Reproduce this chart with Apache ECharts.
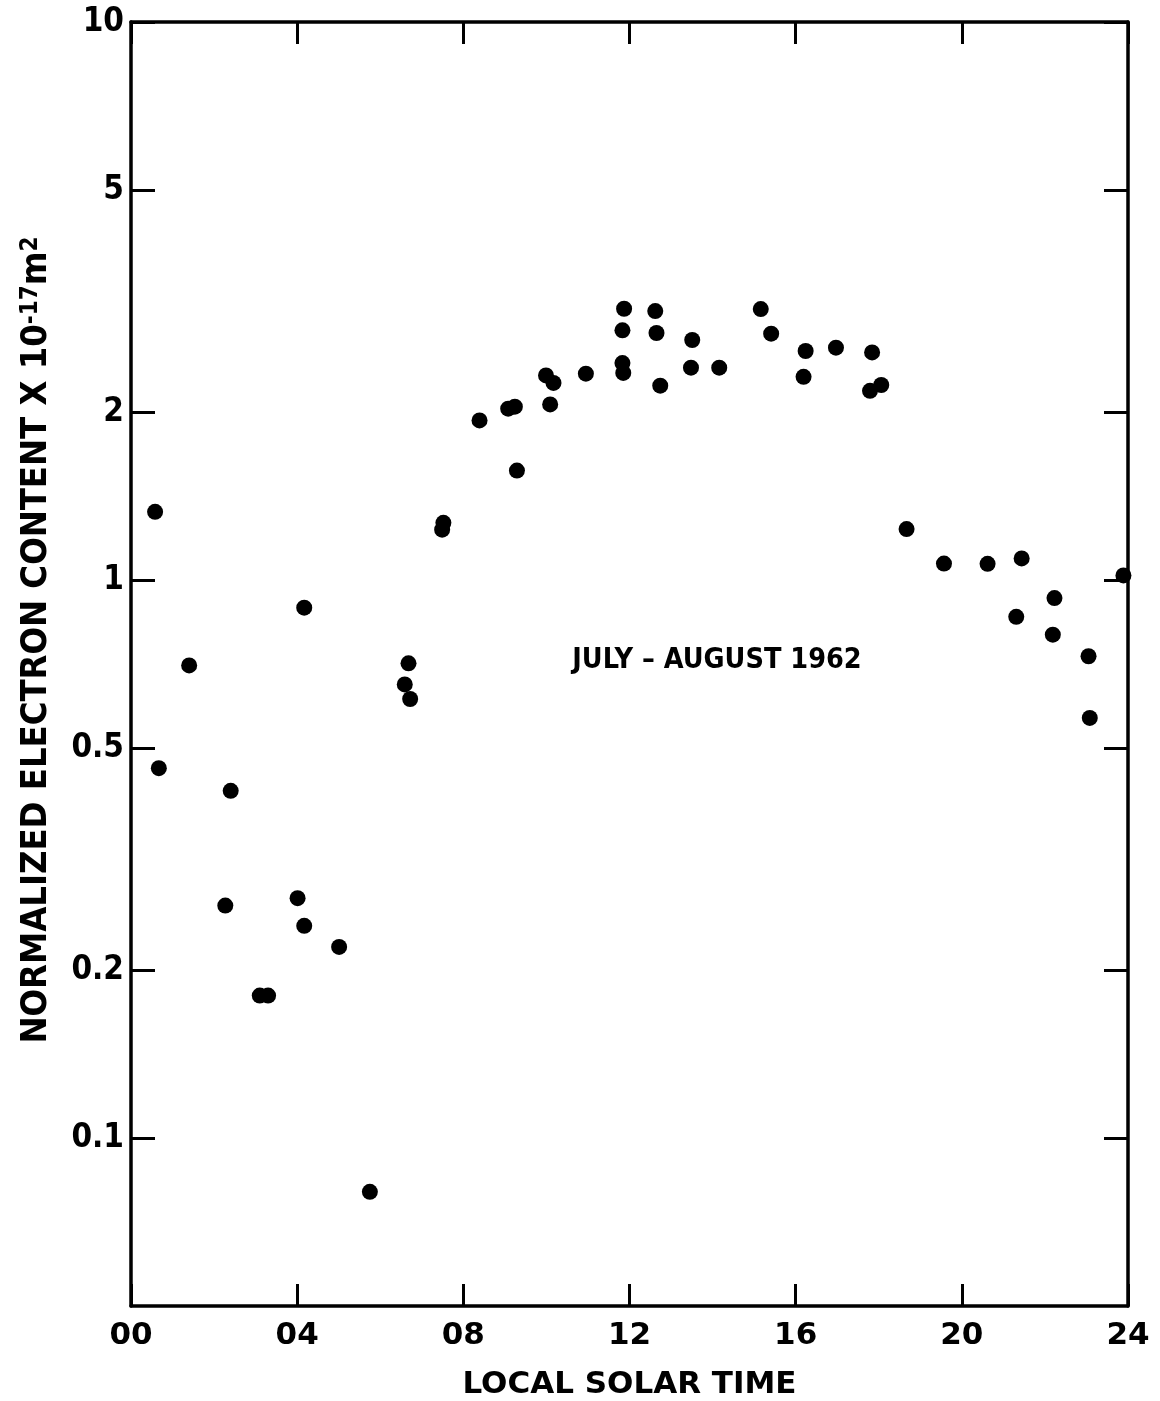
<!DOCTYPE html>
<html><head><meta charset="utf-8">
<script src="https://cdn.jsdelivr.net/npm/echarts@6/dist/echarts.min.js"></script>
<style>html,body{margin:0;padding:0;background:#fff}#c{width:1160px;height:1401px}</style>
</head><body><div id="c"></div>
<script>
// Local solar time (hours) and normalized electron content (x10^17 m^-2)
const hours = [0.58,0.67,1.40,2.40,2.27,3.10,3.30,4.01,4.17,4.17,5.01,5.75,6.59,6.68,6.72,7.49,7.52,8.39,9.08,9.24,9.29,9.99,10.17,10.09,10.95,11.87,11.83,11.83,11.85,12.62,12.65,12.74,13.51,13.48,14.16,15.16,15.41,16.24,16.19,16.97,17.84,17.79,18.06,18.67,19.57,20.62,21.44,21.31,22.23,22.19,23.05,23.08,23.89];
const content = [1.325,0.460,0.703,0.419,0.261,0.180,0.180,0.269,0.892,0.240,0.220,0.0801,0.650,0.709,0.612,1.231,1.266,1.932,2.028,2.045,1.571,2.326,2.255,2.064,2.343,3.063,2.802,2.448,2.350,3.034,2.771,2.230,2.692,2.402,2.402,3.059,2.763,2.573,2.313,2.608,2.558,2.183,2.236,1.234,1.070,1.069,1.093,0.859,0.928,0.798,0.730,0.566,1.019];
const xTicks = [0,4,8,12,16,20,24];
const xTickLabels = ['00','04','08','12','16','20','24'];
const yTicks = [0.1,0.2,0.5,1,2,5,10];
const yTickLabels = ['0.1','0.2','0.5','1','2','5','10'];
const xTitle = 'LOCAL SOLAR TIME';
const yTitle = 'NORMALIZED ELECTRON CONTENT X 10{sup|-17}m{sup|2}';
const annotation = 'JULY – AUGUST 1962';

const FONTC = "'DejaVu Sans Condensed','Liberation Sans Narrow','DejaVu Sans',sans-serif";
const FONT = "'DejaVu Sans',sans-serif";
const points = hours.map((h, i) => [h, content[i]]);
const xLabelMap = {}; xTicks.forEach((t, i) => xLabelMap[t] = xTickLabels[i]);
const yLabelFor = v => { let best = 0; yTicks.forEach((t, i) => { if (Math.abs(t - v) < Math.abs(yTicks[best] - v)) best = i; }); return yTickLabels[best]; };

const GRID_W = 997;
const lineStyle = { color: '#000', width: 3.5 };
const tickStyle = { color: '#000', width: 3 };
const chart = echarts.init(document.getElementById('c'), null, { renderer: 'canvas' });
chart.setOption({
  backgroundColor: '#fff',
  animation: false,
  grid: { left: 131, top: 22, width: GRID_W, height: 1284, containLabel: false, outerBoundsMode: 'none' },
  xAxis: [
    { type: 'value', min: 0, max: 24, interval: 4, position: 'bottom',
      axisLine: { show: true, lineStyle }, splitLine: { show: false },
      axisTick: { show: true, inside: true, length: 22, lineStyle: tickStyle },
      axisLabel: { show: true, margin: 14, color: '#000', fontFamily: FONT, fontWeight: 'bold', fontSize: 31,
        formatter: v => xLabelMap[v] !== undefined ? xLabelMap[v] : '' },
      name: xTitle, nameLocation: 'middle', nameGap: 63,
      nameTextStyle: { color: '#000', fontFamily: FONT, fontWeight: 'bold', fontSize: 31 } },
    { type: 'value', min: 0, max: 24, interval: 4, position: 'top',
      axisLine: { show: true, lineStyle }, splitLine: { show: false },
      axisTick: { show: true, inside: true, length: 22, lineStyle: tickStyle },
      axisLabel: { show: false } }
  ],
  yAxis: [
    { type: 'log', logBase: 10, min: 0.05, max: 10, position: 'left',
      axisLine: { show: true, lineStyle }, splitLine: { show: false }, minorTick: { show: false },
      axisTick: { show: true, inside: true, length: 24, lineStyle: tickStyle, customValues: yTicks },
      axisLabel: { show: true, margin: 7, color: '#000', fontFamily: FONTC, fontWeight: 'bold', fontSize: 33,
        customValues: yTicks, formatter: v => yLabelFor(v) },
      name: yTitle, nameLocation: 'middle', nameGap: 76,
      nameTextStyle: { color: '#000', fontFamily: FONTC, fontWeight: 'bold', fontSize: 36, padding: [0, 0, 0, 48],
        rich: { sup: { fontFamily: FONTC, fontWeight: 'bold', fontSize: 24, verticalAlign: 'top', color: '#000' } } } },
    { type: 'log', logBase: 10, min: 0.05, max: 10, position: 'left', offset: -GRID_W,
      axisLine: { show: true, lineStyle }, splitLine: { show: false }, minorTick: { show: false },
      axisTick: { show: true, inside: false, length: 24, lineStyle: tickStyle, customValues: yTicks },
      axisLabel: { show: false } }
  ],
  graphic: [
    { type: 'text', x: 717, y: 661,
      style: { text: annotation, fill: '#000', font: "bold 28.5px " + FONTC, align: 'center', verticalAlign: 'middle' } }
  ],
  series: [
    { type: 'scatter', xAxisIndex: 0, yAxisIndex: 0, data: points,
      symbol: 'circle', symbolSize: 16, itemStyle: { color: '#000', opacity: 1 }, silent: true }
  ]
});
</script></body></html>
